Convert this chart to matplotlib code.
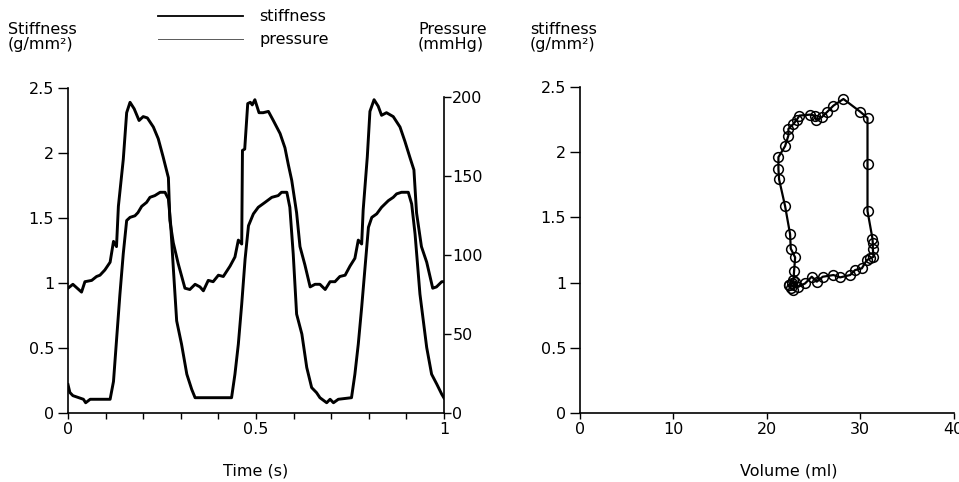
import numpy as np
import matplotlib.pyplot as plt
from matplotlib.lines import Line2D
from matplotlib.ticker import MultipleLocator

plt.rcParams['font.family'] = ['DejaVu Sans']
plt.rcParams['font.size'] = 11.5

# stiffness vs time (g/mm2)
t_stiff = [0, 0.013, 0.036, 0.045, 0.063, 0.076, 0.085, 0.098, 0.112, 0.121,
           0.129, 0.134, 0.147, 0.156, 0.165, 0.176, 0.189, 0.2, 0.211, 0.227,
           0.24, 0.253, 0.267, 0.271, 0.28, 0.293, 0.311, 0.324, 0.338, 0.351,
           0.36, 0.373, 0.386, 0.40, 0.413, 0.431, 0.444, 0.453, 0.462, 0.464,
           0.47, 0.478, 0.485, 0.49, 0.497, 0.508, 0.519, 0.533, 0.546, 0.564,
           0.577, 0.586, 0.595, 0.608, 0.617, 0.63, 0.644, 0.657, 0.67, 0.684,
           0.697, 0.71, 0.723, 0.737, 0.75, 0.763, 0.772, 0.781, 0.785, 0.796,
           0.803, 0.814, 0.825, 0.834, 0.847, 0.865, 0.883, 0.896, 0.91, 0.92,
           0.927, 0.94, 0.954, 0.97, 0.98, 0.994, 1.0]
stiffness = [0.96, 0.99, 0.93, 1.01, 1.02, 1.05, 1.06, 1.10, 1.16, 1.32,
             1.28, 1.59, 1.95, 2.31, 2.39, 2.34, 2.25, 2.28, 2.27, 2.20,
             2.11, 1.97, 1.81, 1.48, 1.31, 1.15, 0.96, 0.95, 0.99, 0.97,
             0.94, 1.02, 1.01, 1.06, 1.05, 1.13, 1.20, 1.33, 1.30, 2.02,
             2.03, 2.38, 2.39, 2.37, 2.41, 2.31, 2.31, 2.32, 2.25, 2.15,
             2.04, 1.91, 1.79, 1.54, 1.28, 1.14, 0.97, 0.99, 0.99, 0.95,
             1.01, 1.01, 1.05, 1.06, 1.13, 1.19, 1.33, 1.30, 1.56, 1.97,
             2.32, 2.41, 2.36, 2.29, 2.31, 2.28, 2.20, 2.09, 1.96, 1.87,
             1.54, 1.28, 1.16, 0.96, 0.97, 1.01, 1.01]

# pressure vs time (mmHg)
t_pres = [0, 0.005, 0.013, 0.041, 0.047, 0.059, 0.068, 0.112, 0.121, 0.129,
          0.138, 0.147, 0.156, 0.165, 0.178, 0.186, 0.196, 0.209, 0.218, 0.231,
          0.245, 0.258, 0.267, 0.273, 0.28, 0.289, 0.302, 0.316, 0.329, 0.338,
          0.351, 0.435, 0.444, 0.453, 0.462, 0.471, 0.48, 0.493, 0.506, 0.524,
          0.542, 0.559, 0.568, 0.582, 0.59, 0.599, 0.608, 0.622, 0.635, 0.648,
          0.661, 0.67, 0.688, 0.697, 0.706, 0.719, 0.754, 0.763, 0.772, 0.781,
          0.79, 0.799, 0.808, 0.821, 0.834, 0.852, 0.865, 0.874, 0.887, 0.905,
          0.914, 0.923, 0.936, 0.954, 0.967, 0.981, 0.994, 1.0]
pressure = [18, 13, 11, 8.7, 6.5, 8.7, 8.7, 8.7, 20, 46,
            75, 101, 122, 124, 125, 127, 131, 133.5, 136.7, 137.8,
            139.9, 139.9, 135.7, 119.8, 92.3, 58.4, 43.6, 24.6, 15, 9.7,
            9.7, 9.7, 24.6, 43.6, 69, 97.6, 118.7, 126.2, 130.4, 133.5,
            136.7, 137.8, 139.9, 139.9, 130.4, 100.8, 62.7, 50, 28.8, 16.1,
            12.9, 9.7, 6.5, 8.7, 6.5, 8.7, 9.7, 24.6, 43.6, 66.9,
            92.3, 117.7, 124, 126.2, 130.4, 134.6, 136.7, 138.9, 139.9, 139.9,
            132.5, 113.5, 75.4, 41.5, 24.6, 18.2, 11.9, 9.5]

# stiffness vs volume loop
loop_vol = [22.43, 22.57, 22.86, 23.04, 23.39, 24.11, 24.82, 25.36, 26.0, 27.14,
            27.86, 28.93, 29.46, 30.18, 30.71, 31.07, 31.43, 31.36, 31.36, 31.32,
            30.79, 30.79, 30.79, 30.0, 28.21, 27.14, 26.43, 25.89, 25.29, 25.18,
            24.64, 23.5, 23.21, 22.86, 22.32, 22.32, 21.96, 21.25, 21.25, 21.32,
            21.96, 22.5, 22.57, 23.04, 22.93, 22.86, 22.68]
loop_stiff = [0.981, 0.956, 0.943, 1.007, 0.968, 0.994, 1.045, 1.007, 1.045, 1.058,
              1.040, 1.058, 1.096, 1.109, 1.172, 1.185, 1.198, 1.261, 1.300, 1.338,
              1.549, 1.906, 2.263, 2.311, 2.408, 2.357, 2.306, 2.268, 2.248, 2.281,
              2.288, 2.281, 2.248, 2.217, 2.179, 2.128, 2.046, 1.962, 1.873, 1.792,
              1.588, 1.371, 1.261, 1.193, 1.091, 1.019, 0.994]

W, H = 959, 482
FS = 11.5
fig = plt.figure(figsize=(W / 100, H / 100), dpi=100)


def fx(px):
    return px / W


def fy(py):
    return 1 - py / H


def style_axis(ax, ylen=7):
    ax.spines['top'].set_visible(False)
    ax.spines['right'].set_visible(False)
    ax.tick_params(axis='y', direction='out', length=ylen, width=1, pad=3,
                   labelsize=FS)
    ax.tick_params(axis='x', direction='out', length=4.5, width=1, pad=2,
                   labelsize=FS)
    for s in ('left', 'bottom'):
        ax.spines[s].set_linewidth(1.2)


# left panel: stiffness and pressure vs time
ax1 = fig.add_axes([fx(68), fy(413), fx(444 - 68), (413 - 88) / H])
ax1.patch.set_alpha(0)
ax1.plot(t_stiff, stiffness, color='black', lw=2.1, solid_joinstyle='round')
ax1.set_xlim(0, 1)
ax1.set_ylim(0, 2.5)
ax1.set_yticks([0, 0.5, 1, 1.5, 2, 2.5])
ax1.set_yticklabels(['0', '0.5', '1', '1.5', '2', '2.5'])
ax1.set_xticks([0, 0.5, 1])
ax1.set_xticklabels(['0', '0.5', '1'])
ax1.xaxis.set_minor_locator(MultipleLocator(0.1))
ax1.tick_params(axis='x', which='minor', direction='out', length=4.5, width=1)
style_axis(ax1)

ax2 = ax1.twinx()
ax2.plot(t_pres, pressure, color='black', lw=2.1, solid_joinstyle='round')
ax2.set_ylim(0, 206)
ax2.set_yticks([0, 50, 100, 150, 200])
for s in ('top', 'left', 'bottom'):
    ax2.spines[s].set_visible(False)
ax2.spines['right'].set_bounds(0, 200)
ax2.spines['right'].set_linewidth(1.2)
ax2.tick_params(axis='y', direction='out', length=5, width=1, pad=1,
                labelsize=FS)

# right panel: stiffness vs volume
ax3 = fig.add_axes([fx(580), fy(413), fx(953.5 - 580), (413 - 87) / H])
vol_closed = list(loop_vol) + [loop_vol[0]]
st_closed = list(loop_stiff) + [loop_stiff[0]]
ax3.plot(vol_closed, st_closed, color='black', lw=1.6, marker='o',
         markersize=7, markerfacecolor='none', markeredgewidth=1.1,
         clip_on=False)
ax3.set_xlim(0, 40)
ax3.set_ylim(0, 2.5)
ax3.set_xticks([0, 10, 20, 30, 40])
ax3.set_yticks([0, 0.5, 1, 1.5, 2, 2.5])
ax3.set_yticklabels(['0', '0.5', '1', '1.5', '2', '2.5'])
style_axis(ax3)

# axis titles
fig.text(fx(8), fy(29), 'Stiffness', fontsize=FS, va='center', ha='left')
fig.text(fx(8), fy(45), '(g/mm²)', fontsize=FS, va='center', ha='left')
fig.text(fx(418), fy(29), 'Pressure', fontsize=FS, va='center', ha='left')
fig.text(fx(418), fy(45), '(mmHg)', fontsize=FS, va='center', ha='left')
fig.text(fx(530), fy(29), 'stiffness', fontsize=FS, va='center', ha='left')
fig.text(fx(530), fy(45), '(g/mm²)', fontsize=FS, va='center', ha='left')
fig.text(fx(256), fy(471), 'Time (s)', fontsize=FS, va='center', ha='center')
fig.text(fx(789), fy(471), 'Volume (ml)', fontsize=FS, va='center',
         ha='center')

# legend
handles = [Line2D([], [], color='black', lw=1.3),
           Line2D([], [], color='0.35', lw=0.7)]
fig.legend(handles, ['stiffness', 'pressure'], loc='upper left',
           bbox_to_anchor=(fx(152), fy(3)), frameon=False, fontsize=FS,
           handlelength=5.3, handletextpad=1.0, labelspacing=0.5,
           borderaxespad=0)

fig.savefig('out.png', dpi=100)
